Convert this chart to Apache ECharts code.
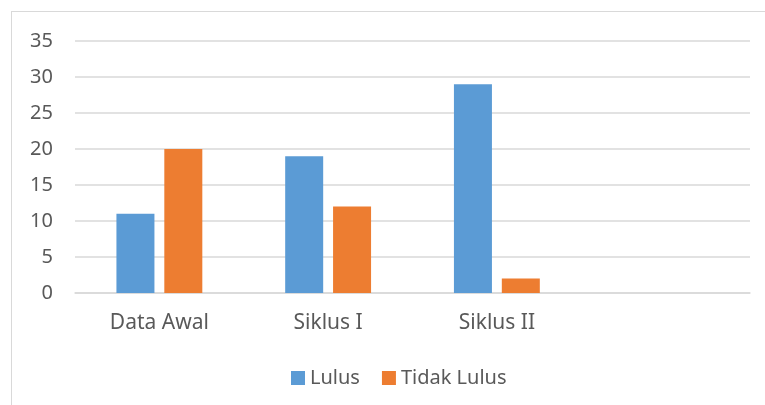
<!DOCTYPE html>
<html>
<head>
<meta charset="utf-8">
<script src="https://cdn.jsdelivr.net/npm/echarts@6/dist/echarts.min.js"></script>
<style>
  html, body { margin: 0; padding: 0; background: #fff; overflow: hidden; }
  #frame {
    position: absolute; left: 11px; top: 11px; width: 800px; height: 450px;
    border: 1px solid #d9d9d9; box-sizing: border-box;
  }
  #chart { position: absolute; left: 0; top: 0; width: 765px; height: 405px; }
</style>
</head>
<body>
<div id="frame"></div>
<div id="chart"></div>
<script>
const categories = ["Data Awal", "Siklus I", "Siklus II", ""];
const lulus = [11, 19, 29, null];
const tidakLulus = [20, 12, 2, null];
const yTicks = { min: 0, max: 35, interval: 5 };

const chart = echarts.init(document.getElementById("chart"));
const font = "'Noto Sans', 'Open Sans', sans-serif";
chart.setOption({
  animation: false,
  color: ["#5b9bd5", "#ed7d31"],
  grid: { left: 75, right: 15, top: 41, bottom: 112 },
  legend: {
    left: 291,
    top: 368,
    padding: 0,
    itemWidth: 14,
    itemHeight: 14,
    itemGap: 22,
    icon: "rect",
    textStyle: { color: "#595959", fontSize: 20, fontFamily: font },
    data: ["Lulus", "Tidak Lulus"]
  },
  xAxis: {
    type: "category",
    data: categories,
    axisTick: { show: false },
    axisLine: { lineStyle: { color: "#d9d9d9", width: 1.5 } },
    axisLabel: { color: "#595959", fontSize: 21, fontFamily: font, margin: 20 }
  },
  yAxis: {
    type: "value",
    min: yTicks.min,
    max: yTicks.max,
    interval: yTicks.interval,
    axisLine: { show: false },
    axisTick: { show: false },
    axisLabel: { color: "#595959", fontSize: 20, fontFamily: font, margin: 22 },
    splitLine: { lineStyle: { color: "#d9d9d9", width: 1.5 } }
  },
  series: [
    { name: "Lulus", type: "bar", data: lulus, barWidth: 38, barGap: "26%" },
    { name: "Tidak Lulus", type: "bar", data: tidakLulus, barWidth: 38 }
  ]
});
</script>
</body>
</html>
